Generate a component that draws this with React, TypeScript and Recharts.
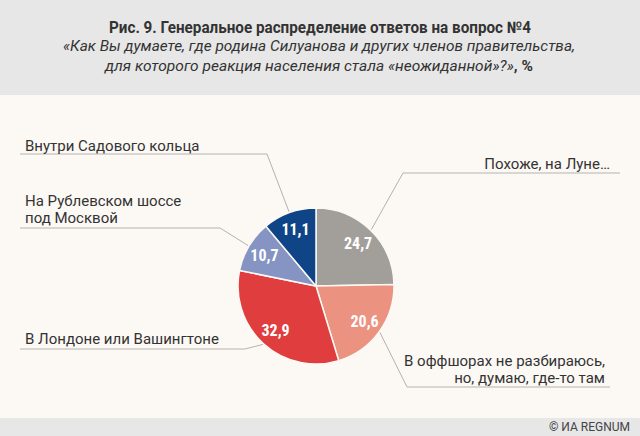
import { PieChart, Pie, Cell } from "recharts";

const categories = [
  "Похоже, на Луне…",
  "В оффшорах не разбираюсь, но, думаю, где-то там",
  "В Лондоне или Вашингтоне",
  "На Рублевском шоссе под Москвой",
  "Внутри Садового кольца",
];
const values = [24.7, 20.6, 32.9, 10.7, 11.1];
const colors = ["#a29e99", "#ec9281", "#e03d3f", "#8594c3", "#0f4586"];

// label text lines and where the leader line bends (layout only)
const labelLines = [
  ["Похоже, на Луне…"],
  ["В оффшорах не разбираюсь,", "но, думаю, где-то там"],
  ["В Лондоне или Вашингтоне"],
  ["На Рублевском шоссе", "под Москвой"],
  ["Внутри Садового кольца"],
];
const labelLayout = [
  { elbowX: 403, elbowY: 173, endX: 620, textX: 610, anchor: "end", baselines: [169] },
  { elbowX: 407, elbowY: 387, endX: 610, textX: 605, anchor: "end", baselines: [366, 383] },
  { elbowX: 245, elbowY: 349, endX: 20, textX: 25, anchor: "start", baselines: [344] },
  { elbowX: 220, elbowY: 228, endX: 20, textX: 25, anchor: "start", baselines: [206, 223] },
  { elbowX: 267, elbowY: 154, endX: 20, textX: 25, anchor: "start", baselines: [151] },
];

const data = categories.map((name, i) => ({ name, value: values[i] }));

const RAD = Math.PI / 180;
const fmt = (v: number) => v.toFixed(1).replace(".", ",");

function renderLabel(props: any) {
  const { cx, cy, midAngle, outerRadius, index, value } = props;
  const cos = Math.cos(-midAngle * RAD);
  const sin = Math.sin(-midAngle * RAD);
  const inR = outerRadius * 0.77;
  const sx = cx + (outerRadius + 1) * cos;
  const sy = cy + (outerRadius + 1) * sin;
  const lay = labelLayout[index];
  return (
    <g>
      <text
        x={cx + inR * cos}
        y={cy + inR * sin}
        textAnchor="middle"
        dominantBaseline="central"
        fill="#fff"
        fontWeight="bold"
        fontSize={16}
        fontFamily="'Liberation Sans Narrow', 'Roboto Condensed', Roboto, sans-serif"
      >
        {fmt(value)}
      </text>
      <polyline
        points={`${sx},${sy} ${lay.elbowX},${lay.elbowY} ${lay.endX},${lay.elbowY}`}
        fill="none"
        stroke="#b5b2ae"
        strokeWidth={1}
      />
      {labelLines[index].map((line, j) => (
        <text
          key={j}
          x={lay.textX}
          y={lay.baselines[j]}
          textAnchor={lay.anchor as any}
          fill="#333"
          fontSize={15}
          fontFamily="Roboto, sans-serif"
        >
          {line}
        </text>
      ))}
    </g>
  );
}

export default function App() {
  return (
    <div
      style={{
        position: "absolute",
        left: 0,
        top: 0,
        width: 640,
        height: 436,
        background: "#fcf9f5",
        overflow: "hidden",
      }}
    >
      <svg width={640} height={95} style={{ position: "absolute", left: 0, top: 0, background: "#e7e7e7" }}>
        <text
          x={320}
          y={33}
          textAnchor="middle"
          fontSize={16}
          fontWeight="bold"
          fill="#333"
          fontFamily="'Liberation Sans Narrow', Roboto, sans-serif"
          textLength={422}
          lengthAdjust="spacingAndGlyphs"
        >
          Рис. 9. Генеральное распределение ответов на вопрос №4
        </text>
        <text
          x={319}
          y={51}
          textAnchor="middle"
          fontSize={15.5}
          fontStyle="italic"
          fill="#333"
          fontFamily="'Liberation Sans Narrow', Roboto, sans-serif"
          textLength={512}
          lengthAdjust="spacingAndGlyphs"
        >
          «Как Вы думаете, где родина Силуанова и других членов правительства,
        </text>
        <text
          x={319}
          y={71}
          textAnchor="middle"
          fontSize={15.5}
          fill="#333"
          fontFamily="'Liberation Sans Narrow', Roboto, sans-serif"
          textLength={428}
          lengthAdjust="spacingAndGlyphs"
        >
          <tspan fontStyle="italic">для которого реакция населения стала «неожиданной»?»</tspan>
          <tspan fontWeight="bold">, %</tspan>
        </text>
      </svg>
      <div style={{ position: "absolute", left: 0, top: 0 }}>
        <PieChart width={640} height={436} margin={{ top: 0, right: 0, bottom: 0, left: 0 }}>
          <Pie
            data={data}
            dataKey="value"
            nameKey="name"
            cx={316}
            cy={286}
            outerRadius={78}
            startAngle={90}
            endAngle={-270}
            stroke="#fcf9f5"
            strokeWidth={1.5}
            label={renderLabel}
            labelLine={false}
            isAnimationActive={false}
          >
            {data.map((d, i) => (
              <Cell key={d.name} fill={colors[i]} />
            ))}
          </Pie>
        </PieChart>
      </div>
      <div
        style={{
          position: "absolute",
          left: 0,
          top: 418,
          width: 640,
          height: 18,
          background: "#e7e7e7",
        }}
      >
        <span
          style={{
            position: "absolute",
            right: 10,
            top: 2,
            fontSize: 12,
            color: "#444",
            fontFamily: "Roboto, sans-serif",
          }}
        >
          © ИА REGNUM
        </span>
      </div>
    </div>
  );
}
